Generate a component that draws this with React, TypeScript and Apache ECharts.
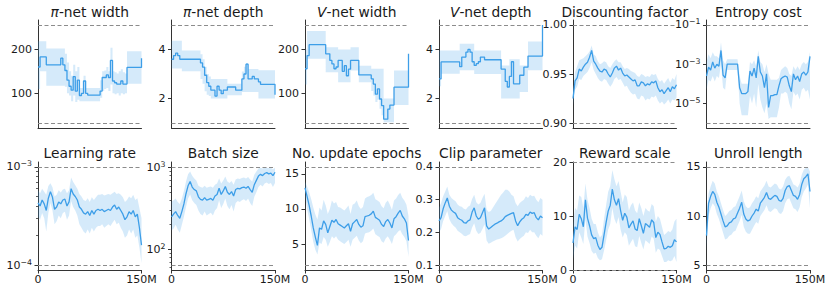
import React, { useEffect, useRef } from "react";
import * as echarts from "echarts";

// ---------- data ----------
const steps = [0, 3, 6, 9, 12, 15, 18, 21, 24, 27, 30, 33, 36, 39, 42, 45, 48, 51, 54, 57, 60, 63, 66, 69, 72, 75, 78, 81, 84, 87, 90, 93, 96, 99, 102, 105, 108, 111, 114, 117, 120, 123, 126, 129, 132, 135, 138, 141, 144, 147, 150];
const xTicks = [0, 150];
const xTickLabels = ["0", "150M"];

const titles = ["{i|π}-net width", "{i|π}-net depth", "{i|V}-net width", "{i|V}-net depth", "Discounting factor", "Entropy cost", "Learning rate", "Batch size", "No. update epochs", "Clip parameter", "Reward scale", "Unroll length"];

// π-net width
const piWidthMean = [160, 183, 183, 183, 165, 165, 165, 165, 165, 165, 165, 180, 165, 152, 130, 116, 107, 138, 105, 130, 95, 100, 128, 100, 96, 96, 96, 96, 96, 96, 105, 136, 136, 142, 136, 175, 128, 124, 121, 121, 128, 121, 121, 159, 159, 159, 159, 159, 159, 159, 180];
const piWidthUpper = [219, 219, 219, 219, 202, 202, 202, 202, 202, 202, 202, 202, 202, 190, 170, 150, 140, 165, 150, 160, 112, 112, 140, 112, 112, 112, 112, 112, 112, 112, 130, 150, 152, 160, 150, 204, 150, 148, 145, 150, 155, 148, 145, 196, 196, 196, 196, 196, 196, 196, 215];
const piWidthLower = [110, 150, 150, 150, 117, 117, 117, 117, 117, 117, 117, 117, 117, 115, 100, 95, 82, 95, 80, 85, 82, 82, 82, 82, 82, 82, 82, 82, 82, 82, 90, 105, 110, 112, 105, 120, 100, 98, 100, 95, 100, 98, 100, 122, 122, 122, 122, 122, 122, 122, 95];
const piWidthBounds = [32, 256];
const piWidthTicks = [100, 200];
const piWidthTickLabels = ["100", "200"];

// π-net depth
const piDepthMean = [3.6, 3.75, 3.85, 3.75, 3.6, 3.6, 3.6, 3.6, 3.6, 3.6, 3.6, 3.6, 3.6, 3.6, 3.45, 3.28, 2.95, 2.65, 2.5, 2.34, 2.34, 2.1, 2.5, 2.34, 2.2, 2.34, 2.34, 2.47, 2.47, 2.47, 2.47, 2.34, 2.34, 2.34, 2.8, 3.0, 3.4, 2.8, 2.8, 2.9, 2.8, 2.8, 2.68, 2.58, 2.58, 2.58, 2.58, 2.58, 2.58, 2.58, 2.15];
const piDepthUpper = [4.35, 4.35, 4.35, 4.35, 4.35, 3.96, 3.96, 3.96, 3.96, 3.96, 3.96, 3.96, 3.96, 3.96, 3.8, 3.6, 3.3, 3.0, 2.9, 2.8, 2.8, 2.8, 2.8, 2.8, 2.8, 2.8, 2.8, 2.6, 2.6, 2.6, 2.6, 2.6, 2.6, 2.6, 3.1, 3.3, 3.45, 3.2, 3.2, 3.2, 3.2, 3.2, 3.15, 3.15, 3.15, 3.15, 3.15, 3.15, 3.15, 3.15, 3.15];
const piDepthLower = [3.22, 3.22, 3.22, 3.22, 3.22, 3.11, 3.11, 3.11, 3.11, 3.11, 3.11, 3.11, 3.11, 3.11, 2.8, 2.6, 2.3, 2.15, 2.1, 2.0, 2.0, 2.0, 2.0, 2.0, 2.0, 2.0, 2.0, 2.13, 2.13, 2.13, 2.13, 2.13, 2.13, 2.13, 2.27, 2.27, 2.27, 2.27, 2.27, 2.27, 2.27, 2.27, 2.0, 2.0, 2.0, 2.0, 2.0, 2.0, 2.0, 2.0, 1.75];
const piDepthBounds = [1, 5];
const piDepthTicks = [2, 4];
const piDepthTickLabels = ["2", "4"];

// V-net width
const vWidthMean = [156, 186, 211, 211, 211, 211, 211, 211, 211, 211, 190, 190, 175, 167, 156, 160, 175, 175, 150, 163, 140, 155, 175, 175, 175, 175, 142, 142, 142, 142, 142, 142, 133, 121, 98, 110, 87, 72, 41, 41, 64, 73, 73, 114, 114, 114, 114, 114, 114, 114, 190];
const vWidthUpper = [200, 242, 242, 242, 242, 242, 242, 242, 242, 242, 205, 205, 205, 205, 205, 205, 200, 200, 200, 200, 200, 200, 205, 205, 205, 205, 163, 163, 163, 163, 163, 163, 156, 156, 156, 156, 156, 156, 88, 88, 88, 88, 88, 152, 152, 152, 152, 152, 152, 152, 235];
const vWidthLower = [120, 179, 179, 179, 179, 179, 179, 179, 179, 179, 148, 148, 148, 148, 148, 148, 125, 125, 125, 125, 125, 125, 152, 152, 152, 152, 125, 125, 125, 125, 125, 125, 105, 95, 80, 85, 65, 50, 34, 34, 34, 34, 34, 73, 73, 73, 73, 73, 73, 73, 150];
const vWidthBounds = [32, 256];
const vWidthTicks = [100, 200];
const vWidthTickLabels = ["100", "200"];

// V-net depth
const vDepthMean = [2.8, 3.49, 3.49, 3.49, 3.49, 3.49, 3.49, 3.49, 3.49, 3.49, 3.3, 3.69, 3.69, 3.89, 4.0, 3.89, 3.5, 3.35, 3.42, 3.5, 3.69, 3.69, 3.58, 3.58, 3.58, 3.58, 3.58, 3.58, 3.58, 3.58, 3.2, 3.2, 2.7, 2.47, 2.9, 3.5, 2.6, 2.6, 2.6, 2.95, 2.95, 3.28, 3.28, 3.73, 3.73, 3.73, 3.73, 3.73, 3.73, 3.73, 5.0];
const vDepthUpper = [3.96, 3.96, 3.96, 3.96, 3.96, 3.96, 3.96, 3.96, 3.96, 3.96, 4.23, 4.23, 4.23, 4.23, 4.23, 4.23, 4.23, 3.96, 3.96, 3.96, 3.96, 3.96, 3.96, 3.96, 3.96, 3.96, 3.96, 3.96, 3.96, 3.96, 3.35, 3.35, 3.35, 3.35, 3.6, 3.6, 3.6, 3.6, 3.6, 3.35, 3.35, 3.35, 3.35, 4.32, 4.32, 4.32, 4.32, 4.32, 4.32, 4.32, 5.0];
const vDepthLower = [2.5, 3.01, 3.01, 3.01, 3.01, 3.01, 3.01, 3.01, 3.01, 3.01, 3.15, 3.15, 3.15, 3.15, 3.15, 3.15, 3.15, 3.0, 3.0, 3.0, 3.0, 3.0, 3.0, 3.0, 3.0, 3.0, 3.0, 3.0, 3.0, 3.0, 2.0, 2.0, 2.0, 2.0, 2.0, 2.0, 2.0, 2.0, 2.0, 2.27, 2.27, 2.27, 2.27, 3.15, 3.15, 3.15, 3.15, 3.15, 3.15, 3.15, 3.5];
const vDepthBounds = [1, 5];
const vDepthTicks = [2, 4];
const vDepthTickLabels = ["2", "4"];

// Discounting factor
const gammaMean = [0.925, 0.943, 0.946, 0.955, 0.953, 0.957, 0.96, 0.962, 0.967, 0.974, 0.963, 0.96, 0.956, 0.953, 0.952, 0.955, 0.954, 0.95, 0.947, 0.951, 0.956, 0.958, 0.954, 0.956, 0.951, 0.948, 0.949, 0.947, 0.945, 0.943, 0.944, 0.938, 0.938, 0.942, 0.941, 0.938, 0.94, 0.939, 0.942, 0.941, 0.943, 0.936, 0.932, 0.934, 0.93, 0.933, 0.936, 0.932, 0.937, 0.935, 0.939];
const gammaUpper = [0.935, 0.952, 0.958, 0.964, 0.965, 0.966, 0.968, 0.97, 0.973, 0.979, 0.97, 0.968, 0.963, 0.96, 0.961, 0.963, 0.962, 0.958, 0.956, 0.96, 0.963, 0.965, 0.962, 0.962, 0.958, 0.955, 0.956, 0.955, 0.953, 0.952, 0.951, 0.948, 0.947, 0.95, 0.949, 0.947, 0.948, 0.947, 0.95, 0.949, 0.95, 0.945, 0.942, 0.944, 0.94, 0.943, 0.946, 0.941, 0.946, 0.944, 0.95];
const gammaLower = [0.918, 0.934, 0.937, 0.945, 0.944, 0.948, 0.95, 0.952, 0.956, 0.962, 0.954, 0.95, 0.946, 0.943, 0.942, 0.945, 0.944, 0.94, 0.937, 0.94, 0.945, 0.947, 0.944, 0.945, 0.941, 0.937, 0.938, 0.934, 0.931, 0.929, 0.93, 0.925, 0.924, 0.928, 0.927, 0.923, 0.925, 0.924, 0.927, 0.926, 0.928, 0.923, 0.92, 0.922, 0.919, 0.921, 0.924, 0.92, 0.924, 0.923, 0.926];
const gammaBounds = [0.9, 1.0];
const gammaTicks = [0.9, 0.95, 1.0];
const gammaTickLabels = ["0.90", "0.95", "1.00"];

// Entropy cost
const entropyMean = [2.5e-4, 7.1e-4, 5.0e-4, 1.3e-3, 6.3e-4, 1.0e-3, 7.9e-4, 5.0e-3, 2.8e-4, 2.0e-4, 1.0e-3, 1.0e-3, 1.0e-3, 1.0e-3, 1.0e-3, 1.0e-3, 6.3e-5, 3.2e-5, 3.2e-5, 3.2e-5, 4.0e-5, 4.5e-4, 2.5e-4, 6.3e-4, 2.0e-4, 2.5e-3, 4.0e-4, 2.5e-4, 6.3e-5, 3.2e-4, 6.3e-6, 2.5e-5, 2.5e-5, 2.8e-5, 2.8e-5, 7.9e-5, 1.8e-4, 2.2e-4, 2.5e-4, 2.2e-4, 7.9e-5, 4.0e-5, 3.2e-4, 1.6e-4, 2.5e-4, 1.3e-4, 3.2e-4, 4.0e-4, 2.8e-4, 4.0e-4, 2.5e-3];
const entropyUpper = [1.3e-3, 3.2e-3, 2.0e-3, 4.0e-3, 2.5e-3, 2.5e-3, 2.0e-3, 1.3e-2, 1.6e-3, 1.0e-3, 1.8e-3, 1.8e-3, 1.8e-3, 1.8e-3, 1.8e-3, 1.8e-3, 2.5e-4, 1.0e-4, 1.0e-4, 1.0e-4, 1.0e-4, 1.3e-3, 1.0e-3, 1.6e-3, 7.9e-4, 5.0e-3, 1.3e-3, 1.0e-3, 4.0e-4, 1.0e-3, 3.2e-4, 1.6e-4, 1.6e-4, 1.6e-4, 1.6e-4, 2.0e-4, 5.0e-4, 6.3e-4, 7.9e-4, 6.3e-4, 3.2e-4, 2.5e-4, 7.9e-4, 5.0e-4, 7.9e-4, 5.0e-4, 1.0e-3, 1.3e-3, 1.0e-3, 1.3e-3, 4.0e-3];
const entropyLower = [5.0e-5, 1.6e-4, 1.3e-4, 2.5e-4, 1.3e-4, 2.5e-4, 2.0e-4, 1.0e-3, 6.3e-5, 5.0e-5, 5.0e-4, 5.0e-4, 5.0e-4, 5.0e-4, 5.0e-4, 5.0e-4, 1.0e-5, 2.5e-6, 2.5e-6, 2.5e-6, 2.5e-6, 2.5e-5, 1.0e-5, 3.2e-5, 6.3e-6, 1.0e-4, 1.6e-5, 6.3e-6, 3.2e-6, 1.0e-5, 1.6e-6, 2.0e-6, 2.0e-6, 2.0e-6, 2.0e-6, 6.3e-6, 3.2e-5, 3.2e-5, 4.0e-5, 3.2e-5, 1.0e-5, 5.0e-6, 4.0e-5, 2.5e-5, 3.2e-5, 1.6e-5, 5.0e-5, 6.3e-5, 4.0e-5, 5.0e-5, 1.6e-5];
const entropyBounds = [1e-6, 1e-1];
const entropyTicks = [1e-5, 1e-3, 1e-1];
const entropyTickLabels = ["10{s|−5}", "10{s|−3}", "10{s|−1}"];

// Learning rate
const lrMean = [4.3e-4, 4.0e-4, 4.6e-4, 4.2e-4, 3.6e-4, 4.8e-4, 5.6e-4, 4.9e-4, 3.7e-4, 3.9e-4, 4.4e-4, 4.2e-4, 4.6e-4, 4.7e-4, 4.0e-4, 4.4e-4, 6.0e-4, 5.3e-4, 5.0e-4, 4.6e-4, 3.9e-4, 3.7e-4, 3.4e-4, 3.3e-4, 3.5e-4, 3.2e-4, 3.6e-4, 3.3e-4, 3.6e-4, 3.7e-4, 3.6e-4, 3.7e-4, 3.5e-4, 3.6e-4, 3.7e-4, 3.6e-4, 3.9e-4, 4.1e-4, 3.7e-4, 3.9e-4, 3.6e-4, 3.3e-4, 2.9e-4, 3.1e-4, 3.5e-4, 3.3e-4, 3.6e-4, 3.1e-4, 3.3e-4, 2.4e-4, 1.6e-4];
const lrUpper = [5.8e-4, 5.4e-4, 6.0e-4, 5.6e-4, 5.2e-4, 6.4e-4, 6.8e-4, 6.2e-4, 5.0e-4, 5.2e-4, 5.8e-4, 5.5e-4, 5.9e-4, 6.0e-4, 5.4e-4, 5.8e-4, 7.8e-4, 7.0e-4, 6.5e-4, 6.0e-4, 5.3e-4, 5.0e-4, 4.6e-4, 4.5e-4, 4.8e-4, 4.4e-4, 4.9e-4, 4.6e-4, 4.9e-4, 5.2e-4, 5.2e-4, 5.3e-4, 5.1e-4, 5.2e-4, 5.3e-4, 5.2e-4, 5.4e-4, 5.6e-4, 5.3e-4, 5.4e-4, 5.2e-4, 4.9e-4, 4.4e-4, 4.6e-4, 5.0e-4, 4.8e-4, 5.2e-4, 4.6e-4, 4.8e-4, 3.8e-4, 3.0e-4];
const lrLower = [3.1e-4, 2.9e-4, 3.4e-4, 3.0e-4, 2.2e-4, 3.4e-4, 4.3e-4, 3.6e-4, 2.6e-4, 2.8e-4, 3.2e-4, 3.0e-4, 3.4e-4, 3.5e-4, 2.9e-4, 3.2e-4, 4.5e-4, 3.9e-4, 3.6e-4, 3.2e-4, 2.6e-4, 2.4e-4, 2.2e-4, 2.1e-4, 2.3e-4, 2.1e-4, 2.4e-4, 2.2e-4, 2.4e-4, 2.5e-4, 2.5e-4, 2.6e-4, 2.4e-4, 2.5e-4, 2.6e-4, 2.5e-4, 2.7e-4, 2.9e-4, 2.6e-4, 2.7e-4, 2.4e-4, 2.2e-4, 1.9e-4, 2.0e-4, 2.3e-4, 2.1e-4, 2.3e-4, 1.9e-4, 2.0e-4, 1.5e-4, 1.05e-4];
const lrBounds = [1e-4, 1e-3];
const lrTicks = [1e-4, 1e-3];
const lrTickLabels = ["10{s|−4}", "10{s|−3}"];
const lrMinorTicks = [2e-4, 3e-4, 4e-4, 5e-4, 6e-4, 7e-4, 8e-4, 9e-4];

// Batch size
const batchMean = [250, 270, 290, 260, 240, 290, 360, 480, 600, 680, 580, 540, 520, 440, 410, 400, 430, 400, 410, 420, 400, 450, 470, 560, 470, 520, 590, 500, 470, 510, 450, 540, 560, 550, 570, 580, 560, 590, 540, 500, 620, 700, 790, 830, 800, 850, 870, 840, 860, 800, 880];
const batchUpper = [380, 400, 420, 380, 360, 420, 520, 680, 830, 900, 800, 740, 700, 600, 580, 570, 600, 570, 580, 590, 570, 620, 640, 740, 640, 700, 780, 680, 650, 690, 620, 720, 740, 730, 750, 760, 740, 770, 720, 680, 820, 900, 980, 1000, 980, 1000, 1000, 990, 1000, 960, 1000];
const batchLower = [170, 180, 200, 175, 160, 200, 250, 330, 420, 470, 400, 370, 350, 300, 270, 260, 290, 260, 270, 280, 260, 300, 320, 400, 320, 360, 420, 340, 310, 350, 290, 370, 390, 380, 400, 410, 390, 420, 370, 340, 440, 500, 580, 620, 590, 640, 660, 630, 650, 580, 650];
const batchBounds = [64, 1024];
const batchTicks = [100, 1000];
const batchTickLabels = ["10{s|2}", "10{s|3}"];
const batchMinorTicks = [60, 70, 80, 90, 200, 300, 400, 500, 600, 700, 800, 900];

// No. update epochs
const epochsMean = [13.0, 11.8, 10.5, 9.0, 7.3, 6.0, 4.8, 7.3, 7.1, 8.3, 7.8, 6.6, 7.5, 8.4, 8.1, 8.5, 7.9, 7.7, 7.5, 7.3, 7.6, 7.9, 6.8, 7.9, 8.2, 8.5, 7.8, 7.4, 7.6, 8.9, 9.0, 9.1, 9.3, 9.7, 8.8, 8.6, 8.4, 7.8, 7.5, 8.2, 8.5, 8.0, 7.3, 8.6, 8.9, 9.4, 9.8, 9.0, 8.6, 8.0, 5.5];
const epochsUpper = [13.9, 13.2, 12.4, 11.4, 10.2, 9.2, 8.5, 10.2, 9.8, 11.3, 10.5, 9.3, 10.0, 11.2, 10.8, 11.0, 10.3, 10.2, 10.0, 9.8, 10.1, 10.5, 9.3, 10.6, 10.8, 11.2, 10.4, 10.0, 10.3, 11.5, 11.7, 11.8, 12.0, 12.3, 11.4, 11.2, 11.0, 10.4, 10.1, 10.9, 11.2, 10.6, 9.9, 11.2, 11.5, 12.0, 12.3, 11.6, 11.2, 10.6, 9.0];
const epochsLower = [11.8, 10.0, 8.6, 7.0, 5.3, 4.2, 3.5, 5.2, 5.0, 6.0, 5.6, 4.6, 5.3, 6.1, 5.8, 6.1, 5.6, 5.4, 5.2, 5.0, 5.3, 5.6, 4.6, 5.6, 5.9, 6.2, 5.5, 5.1, 5.4, 6.5, 6.6, 6.7, 6.9, 7.2, 6.4, 6.2, 6.0, 5.4, 5.2, 5.8, 6.1, 5.6, 5.0, 6.1, 6.4, 6.8, 7.0, 6.4, 6.0, 5.4, 3.2];
const epochsBounds = [2, 16];
const epochsTicks = [5, 10, 15];
const epochsTickLabels = ["5", "10", "15"];

// Clip parameter
const clipMean = [0.235, 0.245, 0.272, 0.29, 0.305, 0.28, 0.268, 0.262, 0.258, 0.245, 0.24, 0.237, 0.23, 0.228, 0.235, 0.238, 0.262, 0.275, 0.25, 0.24, 0.245, 0.26, 0.275, 0.22, 0.21, 0.215, 0.22, 0.225, 0.228, 0.232, 0.235, 0.24, 0.248, 0.252, 0.255, 0.258, 0.26, 0.235, 0.22, 0.232, 0.24, 0.245, 0.255, 0.252, 0.262, 0.258, 0.26, 0.245, 0.238, 0.25, 0.245];
const clipUpper = [0.275, 0.29, 0.31, 0.325, 0.34, 0.315, 0.305, 0.3, 0.295, 0.285, 0.28, 0.278, 0.272, 0.27, 0.278, 0.282, 0.302, 0.315, 0.292, 0.285, 0.29, 0.305, 0.318, 0.27, 0.262, 0.265, 0.275, 0.285, 0.295, 0.305, 0.315, 0.322, 0.33, 0.33, 0.325, 0.315, 0.31, 0.29, 0.28, 0.29, 0.295, 0.3, 0.31, 0.305, 0.315, 0.31, 0.312, 0.3, 0.292, 0.305, 0.3];
const clipLower = [0.2, 0.21, 0.235, 0.25, 0.265, 0.24, 0.228, 0.22, 0.215, 0.205, 0.2, 0.196, 0.19, 0.188, 0.192, 0.195, 0.215, 0.228, 0.205, 0.195, 0.198, 0.21, 0.225, 0.175, 0.165, 0.168, 0.172, 0.175, 0.178, 0.18, 0.182, 0.185, 0.19, 0.195, 0.2, 0.205, 0.208, 0.185, 0.172, 0.18, 0.185, 0.19, 0.2, 0.198, 0.208, 0.2, 0.2, 0.19, 0.182, 0.195, 0.19];
const clipBounds = [0.1, 0.4];
const clipTicks = [0.1, 0.2, 0.3, 0.4];
const clipTickLabels = ["0.1", "0.2", "0.3", "0.4"];

// Reward scale
const rewardMean = [5.0, 8.0, 7.5, 10.3, 9.5, 8.0, 13.0, 9.6, 8.2, 6.5, 5.8, 6.0, 4.6, 3.8, 4.2, 6.5, 8.8, 10.9, 12.0, 15.0, 13.0, 12.0, 13.2, 11.0, 9.2, 10.5, 9.8, 7.8, 8.5, 9.1, 7.6, 7.3, 9.5, 8.2, 6.8, 8.6, 8.3, 7.9, 9.3, 8.8, 6.0, 7.0, 6.6, 5.2, 3.9, 4.0, 4.4, 4.2, 4.5, 5.6, 5.2];
const rewardUpper = [8.5, 11.5, 11.0, 13.8, 13.5, 11.5, 16.0, 13.0, 11.5, 9.5, 8.5, 8.5, 7.0, 6.0, 6.5, 9.5, 12.0, 14.5, 15.5, 18.5, 16.8, 15.5, 16.5, 14.5, 12.5, 14.0, 13.5, 11.0, 12.0, 12.5, 11.0, 10.5, 12.5, 11.5, 10.0, 11.5, 11.0, 10.8, 12.2, 11.8, 9.0, 10.0, 9.5, 8.0, 6.5, 6.8, 7.2, 7.0, 7.5, 9.0, 9.5];
const rewardLower = [2.0, 4.5, 4.0, 7.0, 6.0, 4.8, 9.5, 6.2, 5.0, 3.5, 3.0, 3.2, 2.2, 1.8, 2.0, 3.6, 5.5, 7.5, 8.5, 11.5, 9.5, 8.5, 9.8, 7.5, 6.0, 7.0, 6.5, 4.5, 5.2, 5.8, 4.4, 4.2, 6.3, 5.0, 3.8, 5.5, 5.2, 4.8, 6.2, 5.8, 3.2, 4.0, 3.7, 2.6, 1.5, 1.5, 1.8, 1.6, 1.8, 2.6, 1.5];
const rewardBounds = [0, 20];
const rewardTicks = [0, 10, 20];
const rewardTickLabels = ["0", "10", "20"];

// Unroll length
const unrollMean = [8.0, 11.3, 12.0, 12.5, 12.2, 11.4, 10.9, 10.2, 9.5, 8.9, 9.0, 9.3, 9.4, 9.7, 9.8, 10.3, 10.8, 11.4, 10.2, 9.7, 9.5, 9.6, 10.0, 10.3, 10.7, 10.5, 11.3, 11.6, 11.9, 12.4, 11.8, 11.7, 11.9, 12.1, 12.0, 11.6, 11.5, 11.8, 12.6, 13.0, 13.1, 12.6, 12.1, 12.0, 11.7, 12.2, 13.2, 13.8, 14.0, 14.3, 12.5];
const unrollUpper = [9.5, 12.3, 13.0, 13.6, 13.3, 12.5, 12.0, 11.3, 10.6, 10.0, 10.2, 10.5, 10.6, 10.9, 11.0, 11.5, 12.0, 12.6, 11.5, 11.0, 10.8, 10.9, 11.3, 11.6, 12.0, 11.8, 12.5, 12.8, 13.1, 13.6, 13.0, 12.9, 13.1, 13.3, 13.2, 12.8, 12.7, 13.0, 13.7, 14.0, 14.1, 13.7, 13.2, 13.1, 12.9, 13.3, 14.2, 14.7, 14.9, 15.0, 14.5];
const unrollLower = [6.5, 10.0, 10.8, 11.3, 11.0, 10.2, 9.7, 9.0, 8.3, 7.6, 7.7, 8.0, 8.1, 8.4, 8.5, 9.0, 9.5, 10.1, 8.9, 8.4, 8.2, 8.2, 8.6, 9.0, 9.4, 9.2, 10.0, 10.3, 10.6, 11.1, 10.5, 10.4, 10.6, 10.8, 10.7, 10.3, 10.2, 10.5, 11.3, 11.7, 11.8, 11.3, 10.8, 10.7, 10.4, 10.9, 11.9, 12.5, 12.8, 13.2, 10.8];
const unrollBounds = [5, 15];
const unrollTicks = [5, 10, 15];
const unrollTickLabels = ["5", "10", "15"];

// ---------- panel specs ----------
type Panel = {
  mean: number[]; upper: number[]; lower: number[];
  bounds: number[]; ticks: number[]; labels: string[];
  log?: boolean; step?: boolean; tight?: boolean; minor?: number[];
};

const panels: Panel[] = [
  { mean: piWidthMean, upper: piWidthUpper, lower: piWidthLower, bounds: piWidthBounds, ticks: piWidthTicks, labels: piWidthTickLabels, step: true },
  { mean: piDepthMean, upper: piDepthUpper, lower: piDepthLower, bounds: piDepthBounds, ticks: piDepthTicks, labels: piDepthTickLabels, step: true },
  { mean: vWidthMean, upper: vWidthUpper, lower: vWidthLower, bounds: vWidthBounds, ticks: vWidthTicks, labels: vWidthTickLabels, step: true },
  { mean: vDepthMean, upper: vDepthUpper, lower: vDepthLower, bounds: vDepthBounds, ticks: vDepthTicks, labels: vDepthTickLabels, step: true },
  { mean: gammaMean, upper: gammaUpper, lower: gammaLower, bounds: gammaBounds, ticks: gammaTicks, labels: gammaTickLabels },
  { mean: entropyMean, upper: entropyUpper, lower: entropyLower, bounds: entropyBounds, ticks: entropyTicks, labels: entropyTickLabels, log: true },
  { mean: lrMean, upper: lrUpper, lower: lrLower, bounds: lrBounds, ticks: lrTicks, labels: lrTickLabels, log: true, minor: lrMinorTicks },
  { mean: batchMean, upper: batchUpper, lower: batchLower, bounds: batchBounds, ticks: batchTicks, labels: batchTickLabels, log: true, minor: batchMinorTicks },
  { mean: epochsMean, upper: epochsUpper, lower: epochsLower, bounds: epochsBounds, ticks: epochsTicks, labels: epochsTickLabels },
  { mean: clipMean, upper: clipUpper, lower: clipLower, bounds: clipBounds, ticks: clipTicks, labels: clipTickLabels },
  { mean: rewardMean, upper: rewardUpper, lower: rewardLower, bounds: rewardBounds, ticks: rewardTicks, labels: rewardTickLabels, tight: true },
  { mean: unrollMean, upper: unrollUpper, lower: unrollLower, bounds: unrollBounds, ticks: unrollTicks, labels: unrollTickLabels },
];

// ---------- style / layout ----------
const FONT = "'DejaVu Sans', sans-serif";
const INK = "#1a1a1a";
const SPINE = "#333333";
const LINE = "#3d9ee8";
const BAND = "rgba(62,158,232,0.22)";
const DASH = "#8c8c8c";
const COL_LEFT = [38, 171.5, 305, 439, 573, 706.5];
const ROW_TOP = [20, 162];
const PW = 103.5;
const PH = 108;
const TITLE_Y = [11.5, 152.5];
const TITLE_SIZE = 13.8;
const TICK_SIZE = 11;

function buildOption() {
  const grid: any[] = [];
  const xAxis: any[] = [];
  const yAxis: any[] = [];
  const series: any[] = [];
  const graphic: any[] = [];

  panels.forEach((p, k) => {
    const r = Math.floor(k / 6);
    const c = k % 6;
    const tf = (v: number) => (p.log ? Math.log10(v) : v);
    grid.push({ left: COL_LEFT[c], top: ROW_TOP[r], width: PW, height: PH });

    const lo = tf(p.bounds[0]);
    const hi = tf(p.bounds[1]);
    const pad = p.tight ? 0 : 0.05 * (hi - lo);
    const ymin = lo - pad;
    const ymax = hi + pad;
    const tickVals = p.ticks.map(tf);

    xAxis.push({
      gridIndex: k, type: "value", min: 0, max: 150,
      axisLine: { show: true, onZero: false, lineStyle: { color: SPINE, width: 1 } },
      axisTick: { show: r === 1, length: 3.5, customValues: xTicks, lineStyle: { color: SPINE, width: 1 } },
      axisLabel: {
        show: r === 1, customValues: xTicks, margin: 4,
        formatter: (v: number) => xTickLabels[xTicks.findIndex((t) => Math.abs(t - v) < 1e-6)] ?? "",
        fontFamily: FONT, fontSize: TICK_SIZE, color: INK,
      },
      splitLine: { show: false },
    });

    const yi = yAxis.length;
    yAxis.push({
      gridIndex: k, type: "value", min: ymin, max: ymax,
      axisLine: { show: true, lineStyle: { color: SPINE, width: 1 } },
      axisTick: { show: true, length: 3.5, customValues: tickVals, lineStyle: { color: SPINE, width: 1 } },
      axisLabel: {
        show: true, customValues: tickVals, margin: 6,
        formatter: (v: number) => {
          const i = tickVals.findIndex((t) => Math.abs(t - v) < 1e-6);
          return i >= 0 ? p.labels[i] : "";
        },
        fontFamily: FONT, fontSize: TICK_SIZE, color: INK, lineHeight: 14,
        rich: { s: { fontFamily: FONT, fontSize: 7.8, color: INK, lineHeight: 6, verticalAlign: "top" } },
      },
      splitLine: { show: false },
    });
    if (p.minor) {
      const minorVals = p.minor.map(tf);
      yAxis.push({
        gridIndex: k, type: "value", min: ymin, max: ymax, position: "left",
        axisLine: { show: false },
        axisTick: { show: true, length: 2, customValues: minorVals, lineStyle: { color: SPINE, width: 0.8 } },
        axisLabel: { show: false, customValues: minorVals },
        splitLine: { show: false },
      });
    }

    const n = steps.length;
    series.push({
      type: "custom", xAxisIndex: k, yAxisIndex: yi, coordinateSystem: "cartesian2d",
      data: [[0, ymin]], silent: true, z: 1, clip: true,
      renderItem: (params: any, api: any) => {
        if (params.dataIndex !== 0) return null;
        const pts: number[][] = [];
        for (let i = 0; i < n; i++) {
          pts.push(api.coord([steps[i], tf(p.upper[i])]));
          if (p.step && i < n - 1) pts.push(api.coord([steps[i + 1], tf(p.upper[i])]));
        }
        for (let i = n - 1; i >= 0; i--) {
          if (p.step && i < n - 1) pts.push(api.coord([steps[i + 1], tf(p.lower[i])]));
          pts.push(api.coord([steps[i], tf(p.lower[i])]));
        }
        return { type: "polygon", shape: { points: pts }, style: { fill: BAND }, silent: true };
      },
    });

    series.push({
      type: "line", xAxisIndex: k, yAxisIndex: yi,
      data: steps.map((x, i) => [x, tf(p.mean[i])]),
      step: p.step ? "end" : false,
      showSymbol: false, symbol: "none", z: 3, silent: true,
      lineStyle: { color: LINE, width: 1.3 }, itemStyle: { color: LINE },
      markLine: {
        silent: true, symbol: ["none", "none"], label: { show: false },
        lineStyle: { color: DASH, type: [4, 2.5], width: 1 },
        emphasis: { disabled: true },
        data: [{ yAxis: lo }, { yAxis: hi }],
      },
    });

    graphic.push({
      type: "text", x: COL_LEFT[c] + PW / 2, y: TITLE_Y[r], silent: true,
      style: {
        text: titles[k], fill: INK, fontFamily: FONT, fontSize: TITLE_SIZE,
        align: "center", verticalAlign: "middle",
        rich: { i: { fontFamily: FONT, fontSize: TITLE_SIZE, fontStyle: "italic", fill: INK } },
      },
    });
  });

  return { animation: false, backgroundColor: "#ffffff", grid, xAxis, yAxis, series, graphic };
}

export default function App() {
  const ref = useRef<HTMLDivElement>(null);
  useEffect(() => {
    if (!ref.current) return;
    const chart = echarts.init(ref.current, undefined, { renderer: "svg" });
    chart.setOption(buildOption() as any);
    return () => chart.dispose();
  }, []);
  return (
    <div
      ref={ref}
      style={{ position: "absolute", left: 0, top: 0, width: 830, height: 293, background: "#fff" }}
    />
  );
}
